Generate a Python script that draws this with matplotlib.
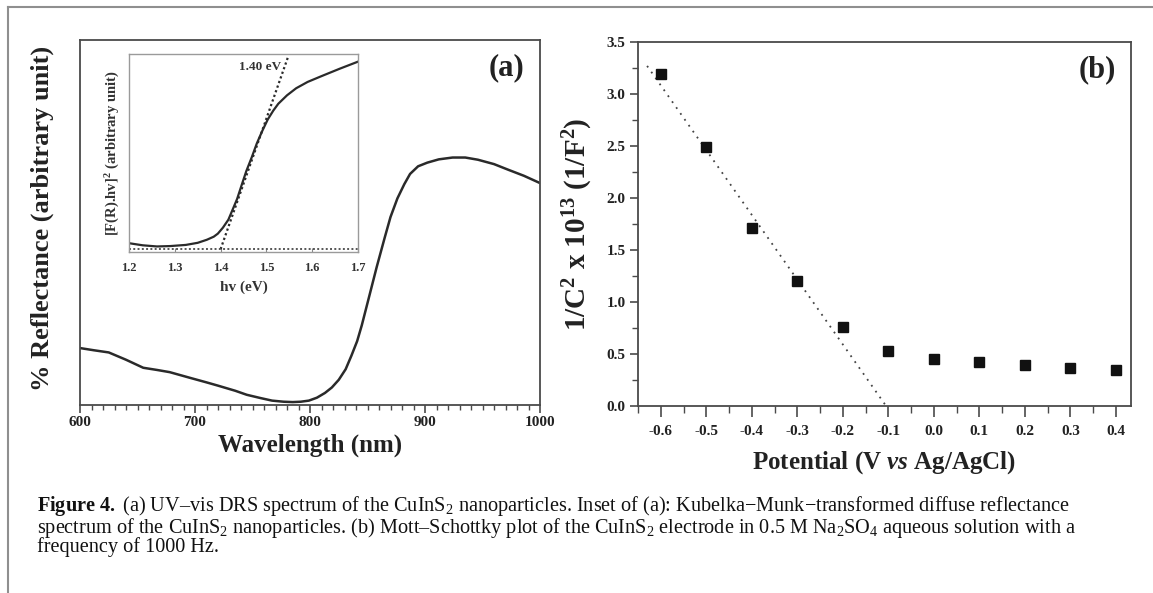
import matplotlib
matplotlib.use("Agg")
import matplotlib.pyplot as plt
from matplotlib.ticker import MultipleLocator, NullLocator

plt.rcParams['font.family'] = ['Liberation Serif', 'DejaVu Serif']
plt.rcParams['mathtext.fontset'] = 'custom'
plt.rcParams['mathtext.rm'] = 'Liberation Serif'
plt.rcParams['mathtext.it'] = 'Liberation Serif:italic'
plt.rcParams['mathtext.bf'] = 'Liberation Serif:bold'
plt.rcParams['mathtext.bfit'] = 'Liberation Serif:bold:italic'

# ---------------- data ----------------
# (a) main reflectance spectrum
wavelength = [600, 612, 625, 640, 655, 667, 678, 695, 710, 720, 735, 745, 757, 767,
              777, 785, 792, 799, 806, 813, 819, 825, 831, 836, 841, 845, 852, 858,
              865, 870, 876, 882, 887, 894, 902, 912, 924, 935, 946, 960, 972, 986, 1000]
reflectance = [15.6, 15.0, 14.4, 12.4, 10.2, 9.6, 9.0, 7.5, 6.2, 5.3, 3.9, 2.8, 1.9, 1.2,
               0.9, 0.8, 0.9, 1.2, 2.0, 3.3, 4.8, 6.9, 9.8, 13.5, 17.5, 21.8, 30.4, 37.8,
               45.9, 51.5, 56.6, 60.5, 63.3, 65.4, 66.4, 67.3, 67.8, 67.8, 67.2, 66.0, 64.5, 62.8, 60.8]

# (a) inset: Kubelka-Munk transformed
hv = [1.20, 1.23, 1.261, 1.29, 1.324, 1.35, 1.37, 1.385, 1.394, 1.405, 1.417, 1.426, 1.436,
      1.446, 1.456, 1.468, 1.479, 1.491, 1.503, 1.515, 1.526, 1.545, 1.565, 1.59, 1.62, 1.66, 1.70]
km = [3.1, 2.0, 1.4, 1.6, 2.2, 3.3, 4.9, 6.5, 8.1, 11.2, 15.4, 20.5, 26.2,
      33.5, 40.7, 48.0, 55.2, 61.8, 67.8, 72.4, 76.0, 80.4, 84.1, 87.4, 90.4, 94.3, 98.0]
tangent_hv = [1.40, 1.548]
tangent_km = [0.0, 101.0]
baseline_hv = [1.20, 1.70]
baseline_km = [0.0, 0.0]
bandgap_label = "1.40 eV"

# (b) Mott-Schottky
potential = [-0.6, -0.5, -0.4, -0.3, -0.2, -0.1, 0.0, 0.1, 0.2, 0.3, 0.4]
inv_c2 = [3.19, 2.49, 1.71, 1.20, 0.76, 0.53, 0.45, 0.42, 0.39, 0.37, 0.35]
fit_potential = [-0.63, -0.105]
fit_inv_c2 = [3.27, 0.0]

xticks_a = [600, 700, 800, 900, 1000]
xticks_inset = [1.2, 1.3, 1.4, 1.5, 1.6, 1.7]
xticks_b = [-0.6, -0.5, -0.4, -0.3, -0.2, -0.1, 0.0, 0.1, 0.2, 0.3, 0.4]
yticks_b = [0.0, 0.5, 1.0, 1.5, 2.0, 2.5, 3.0, 3.5]

caption_lines = [
    r"$\bf{Figure\ 4.}$ (a) UV–vis DRS spectrum of the CuInS$_2$ nanoparticles. Inset of (a): Kubelka$-$Munk$-$transformed diffuse reflectance",
    r"spectrum of the CuInS$_2$ nanoparticles. (b) Mott–Schottky plot of the CuInS$_2$ electrode in 0.5 M Na$_2$SO$_4$ aqueous solution with a",
    r"frequency of 1000 Hz.",
]

# ---------------- figure ----------------
W, H = 1153, 593
fig = plt.figure(figsize=(W / 100, H / 100), dpi=100)
fig.patch.set_facecolor('white')

def fx(px):
    return px / W

def fy(py):
    return 1 - py / H

# outer frame lines
frame_col = '#8f8f8f'
fig.add_artist(plt.Line2D([fx(8), 1.0], [fy(7), fy(7)], color=frame_col, lw=1.5, transform=fig.transFigure))
fig.add_artist(plt.Line2D([fx(8), fx(8)], [fy(7), 0.0], color=frame_col, lw=1.5, transform=fig.transFigure))

spine_col = '#4a4a4a'
txt_col = '#222222'

# ---------- panel (a) ----------
axa = fig.add_axes([fx(80), fy(405), fx(540) - fx(80), fy(40) - fy(405)])
axa.plot(wavelength, reflectance, color='#2a2a2a', lw=1.8)
axa.set_xlim(600, 1000)
axa.set_ylim(0, 100)
axa.set_xticks(xticks_a)
axa.xaxis.set_minor_locator(MultipleLocator(10))
axa.yaxis.set_major_locator(NullLocator())
axa.tick_params(axis='x', which='major', direction='out', length=6, width=1.2, color=spine_col,
                labelsize=11, pad=2, labelcolor=txt_col)
axa.tick_params(axis='x', which='minor', direction='out', length=3.5, width=1.0, color=spine_col)
for lab in axa.get_xticklabels():
    lab.set_fontweight('bold')
for s in axa.spines.values():
    s.set_color(spine_col)
    s.set_linewidth(1.3)
axa.set_xlabel("Wavelength (nm)", fontsize=18, fontweight='bold', color=txt_col, labelpad=3)
fig.text(fx(42), fy(218), "% Reflectance (arbitrary unit)", rotation=90, ha='center', va='center',
         fontsize=19, fontweight='bold', color=txt_col)
axa.text(0.966, 0.925, "(a)", transform=axa.transAxes, ha='right', va='center',
         fontsize=22, fontweight='bold', color=txt_col)

# inset
axi = fig.add_axes([fx(129), fy(252), fx(358) - fx(129), fy(54) - fy(252)])
axi.plot(hv, km, color='#2a2a2a', lw=1.6)
axi.plot(tangent_hv, tangent_km, color='#2a2a2a', lw=1.6, ls=(0, (1, 1.2)))
axi.plot(baseline_hv, baseline_km, color='#555555', lw=1.4, ls=(0, (1, 1.2)))
axi.set_xlim(1.2, 1.7)
axi.set_ylim(-1.5, 102)
axi.set_xticks(xticks_inset)
axi.yaxis.set_major_locator(NullLocator())
axi.tick_params(axis='x', direction='in', length=3, width=0.8, color='#888888',
                labelsize=9, pad=7, labelcolor='#333333')
for lab in axi.get_xticklabels():
    lab.set_fontweight('bold')
for s in axi.spines.values():
    s.set_color('#9a9a9a')
    s.set_linewidth(1.0)
axi.set_xlabel("hv (eV)", fontsize=11, fontweight='bold', color='#333333', labelpad=5)
axi.set_ylabel(r"[F(R).hv]$^\mathbf{2}$ (arbitrary unit)", fontsize=10.5, fontweight='bold',
               color='#333333', labelpad=5)
axi.text(1.532, 95, bandgap_label, ha='right', va='center', fontsize=9.5,
         fontweight='bold', color='#333333')

# ---------- panel (b) ----------
axb = fig.add_axes([fx(638), fy(406), fx(1131) - fx(638), fy(42) - fy(406)])
axb.plot(fit_potential, fit_inv_c2, color='#444444', lw=1.3, ls=(0, (1, 3)))
axb.plot(potential, inv_c2, ls='none', marker='s', ms=6.5, color='#111111')
axb.set_xlim(-0.65, 0.433)
axb.set_ylim(0, 3.5)
axb.set_xticks(xticks_b)
axb.set_yticks(yticks_b)
axb.xaxis.set_minor_locator(MultipleLocator(0.05))
axb.yaxis.set_minor_locator(MultipleLocator(0.25))
axb.set_xticklabels([f"{v:.1f}" for v in xticks_b])
axb.set_yticklabels([f"{v:.1f}" for v in yticks_b])
axb.tick_params(axis='x', which='major', direction='out', length=8, width=1.2, color=spine_col,
                labelsize=11, pad=6, labelcolor=txt_col)
axb.tick_params(axis='x', which='minor', direction='out', length=5, width=1.0, color=spine_col)
axb.tick_params(axis='y', which='major', direction='out', length=6, width=1.2, color=spine_col,
                labelsize=11, pad=3, labelcolor=txt_col)
axb.tick_params(axis='y', which='minor', direction='out', length=4, width=1.0, color=spine_col)
for lab in axb.get_xticklabels() + axb.get_yticklabels():
    lab.set_fontweight('bold')
for s in axb.spines.values():
    s.set_color(spine_col)
    s.set_linewidth(1.3)
axb.set_xlabel(r"Potential (V $\bfit{vs}$ Ag/AgCl)", fontsize=18, fontweight='bold',
               color=txt_col, labelpad=8)
axb.set_ylabel(r"1/C$^\mathbf{2}$ x 10$^\mathbf{13}$ (1/F$^\mathbf{2}$)", fontsize=21,
               fontweight='bold', color=txt_col, labelpad=8)
axb.text(0.97, 0.925, "(b)", transform=axb.transAxes, ha='right', va='center',
         fontsize=22, fontweight='bold', color=txt_col)

# ---------- caption (one multi-line text block) ----------
fig.text(fx(37), fy(494), "\n".join(caption_lines), ha='left', va='top',
         fontsize=14.6, color='#111111', linespacing=0.86)

fig.savefig("out.png", dpi=100, facecolor='white')
